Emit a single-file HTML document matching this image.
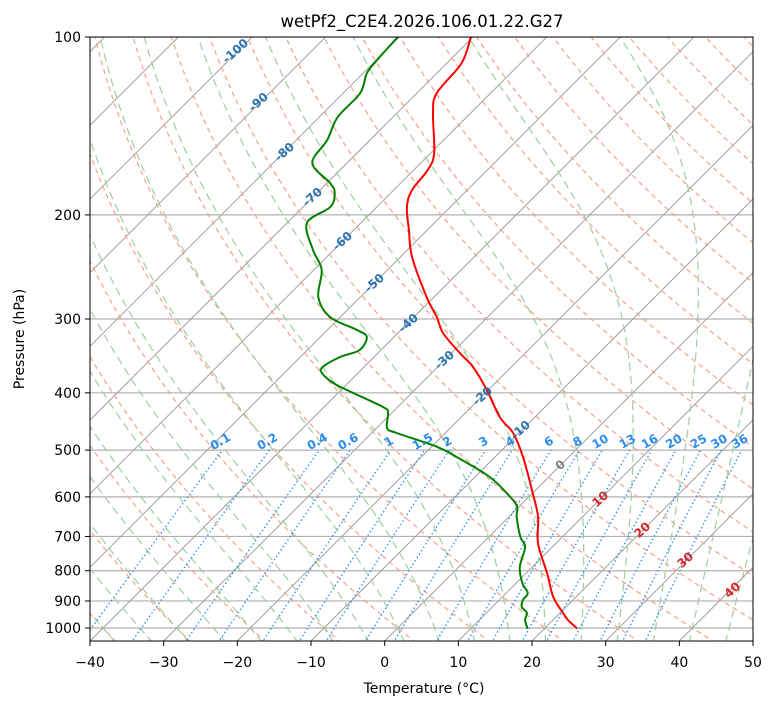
<!DOCTYPE html>
<html><head><meta charset="utf-8"><style>
body{margin:0;background:#fff;}
svg text{font-family:"DejaVu Sans","Liberation Sans",sans-serif;}
</style></head><body>
<svg id="chart" width="775" height="708" viewBox="0 0 775 708" xmlns="http://www.w3.org/2000/svg">
<defs><clipPath id="plotclip"><rect x="90" y="37" width="663" height="604"/></clipPath></defs>
<rect x="0" y="0" width="775" height="708" fill="#fff"/>
<g id="bg" clip-path="url(#plotclip)"></g>
<g id="series" clip-path="url(#plotclip)"></g>
<g id="labels"></g>
<rect x="90" y="37" width="663" height="604" fill="none" stroke="#000" stroke-width="1"/>
<g id="axes"></g>
<text x="422" y="27" text-anchor="middle" font-size="16.5">wetPf2_C2E4.2026.106.01.22.G27</text>
<text x="424" y="693" text-anchor="middle" font-size="14">Temperature (°C)</text>
<text transform="translate(24,339) rotate(-90)" text-anchor="middle" font-size="14">Pressure (hPa)</text>
</svg>
<script>
// ---- data ----
const tempP = [100,110.7,124.4,134.5,157.2,167.9,181.5,193.9,212.1,235.7,275.4,297.7,316.8,342.5,361.7,395.7,439.5,467.8,513.6,591,649,718,807,886,943,969,1000];
const tempT = [-70.3,-68.0,-67.3,-65.1,-59.5,-58.1,-57.5,-55.9,-52.5,-48.4,-41.0,-36.9,-33.9,-28.9,-25.2,-20.2,-14.8,-10.8,-6.2,0.0,4.0,7.5,12.8,16.9,20.4,22.0,24.3];
const dewP = [100,109.4,115.1,124.4,136.6,149.4,163.4,176.6,183.6,193.9,206.4,229.3,247.9,275.4,297.7,313.1,321.8,338.6,347.9,361.7,370.3,385.0,395.7,422.7,432.7,458.7,467.8,493.9,513.6,555.3,600.2,624.2,649,701.5,729.4,788.5,839.1,872.6,896.8,921.5,943,969,1000];
const dewT = [-80.2,-79.9,-79.5,-77.7,-77.5,-75.8,-74.7,-69.6,-67.6,-66.3,-67.3,-62.8,-58.9,-55.7,-51.4,-46.0,-43.7,-42.9,-44.6,-45.6,-44.9,-42.0,-39.2,-32.0,-30.5,-28.6,-26.6,-19.2,-15.2,-8.0,-2.5,-0.2,1.1,4.3,6.3,8.3,10.8,12.9,13.2,14.0,15.5,16.2,17.6];
const xTicks = [-40,-30,-20,-10,0,10,20,30,40,50];
const pTicks = [100,200,300,400,500,600,700,800,900,1000];
const mixRatios = [0.1,0.2,0.4,0.6,1,1.5,2,3,4,6,8,10,13,16,20,25,30,36];
const isoLabels = ["-100","-90","-80","-70","-60","-50","-40","-30","-20","-10","0","10","20","30","40"];

// ---- axis functions ----
const NS="http://www.w3.org/2000/svg";
function Y(p){return 37+(Math.log10(p)-2)*591;}
function X(T,p){return 90+(T+40)*7.367+(641-Y(p));}
function mk(tag,attrs,parent){const e=document.createElementNS(NS,tag);for(const k in attrs)e.setAttribute(k,attrs[k]);parent.appendChild(e);return e;}
const bg=document.getElementById('bg'), ser=document.getElementById('series'), lab=document.getElementById('labels'), ax=document.getElementById('axes');
function pathOf(pts){return pts.map((q,i)=>(i?'L':'M')+q[0].toFixed(1)+','+q[1].toFixed(1)).join('');}
function smooth(pts){
  let d='M'+pts[0][0].toFixed(1)+','+pts[0][1].toFixed(1);
  for(let i=0;i<pts.length-1;i++){
    const p0=pts[Math.max(i-1,0)],p1=pts[i],p2=pts[i+1],p3=pts[Math.min(i+2,pts.length-1)];
    const c1=[p1[0]+(p2[0]-p0[0])/6,p1[1]+(p2[1]-p0[1])/6],c2=[p2[0]-(p3[0]-p1[0])/6,p2[1]-(p3[1]-p1[1])/6];
    d+='C'+c1[0].toFixed(1)+','+c1[1].toFixed(1)+' '+c2[0].toFixed(1)+','+c2[1].toFixed(1)+' '+p2[0].toFixed(1)+','+p2[1].toFixed(1);
  }
  return d;
}
const pLevels=[];for(let lp=Math.log(1060);lp>=Math.log(95);lp-=0.02)pLevels.push(Math.exp(lp));

// isobars
pTicks.forEach(p=>{
  const l=mk('line',{x1:90,x2:753,y1:Y(p),y2:Y(p),stroke:'#b0b0b0','stroke-width':1.2},bg);
  
  
});
// isotherms
for(let T=-140;T<=50;T+=10){
  const l=mk('line',{x1:X(T,1053),y1:Y(1053),x2:X(T,95),y2:Y(95),stroke:'#a0a0a0','stroke-width':1},bg);
  
  
}
// dry adiabats
for(let th=-40;th<=220;th+=10){
  const pts=pLevels.map(p=>[X((th+273.15)*Math.pow(p/1000,0.2857)-273.15,p),Y(p)]);
  const e=mk('path',{d:pathOf(pts),fill:'none',stroke:'#f6a088','stroke-width':1.2,'stroke-dasharray':'5,4'},bg);
  
  
}
// moist adiabats
function es(Tc){return 6.112*Math.exp(17.67*Tc/(Tc+243.5));}
function dTdp(T,p){const Tc=T-273.15,e=es(Tc),rs=0.622*e/(p-e),Lv=2.501e6,Rd=287.04,cp=1005.7;
  return (Rd*T+Lv*rs)/(p*(cp+Lv*Lv*rs*0.622/(Rd*T*T)));}
function moist(t0){
  const up=[],dn=[];let T=t0+273.15,p=1000;
  while(p>95){up.push([X(T-273.15,p),Y(p)]);const dp=-5;T+=dTdp(T,p)*dp;p+=dp;}
  T=t0+273.15;p=1000;
  while(p<1060){const dp=5;T+=dTdp(T,p)*dp;p+=dp;dn.push([X(T-273.15,p),Y(p)]);}
  return dn.reverse().concat(up);
}
for(let t0=-50;t0<=45;t0+=5){
  const e=mk('path',{d:pathOf(moist(t0)),fill:'none',stroke:'#9ccf9c','stroke-width':1.2,'stroke-dasharray':'8,5'},bg);
  
  
}
// mixing ratio lines
function tdOf(w,p){const e=w*p/(0.622+w);const a=Math.log(e/6.112);return 243.5*a/(17.67-a);}
mixRatios.forEach(w=>{
  const pts=[];for(let p=1060;p>=500;p-=10)pts.push([X(tdOf(w/1000,p),p),Y(p)]);
  const e=mk('path',{d:pathOf(pts),fill:'none',stroke:'#2b8cf0','stroke-width':1.4,'stroke-dasharray':'1.4,2.6'},bg);
  
  
  const x=X(tdOf(w/1000,500),500);
  const t=mk('text',{x:0,y:0,transform:'translate('+x.toFixed(1)+',445) rotate(-30)','text-anchor':'middle','font-size':12,'font-weight':'bold',fill:'#2b8cf0'},lab);
  t.textContent=String(w);
  
  
});
// isotherm labels (positions along label path)
const isoPos=[[238,50],[261,101],[287,151],[315,196],[345,240],[377,282],[411,322],[447,359],[485,395],[523,429],[563,464],[603,498],[645,529],[688,559],[735,589]];
isoLabels.forEach((s,i)=>{
  const v=parseFloat(s);const col=v<0?'#2a73b0':(v==0?'#808080':'#d62728');
  const t=mk('text',{x:0,y:0,transform:'translate('+isoPos[i][0]+','+(isoPos[i][1]+4)+') rotate(-42)','text-anchor':'middle','font-size':12,'font-weight':'bold',fill:col},lab);
  t.textContent=s;
  
  
});
// soundings
function profile(P,T,color,name){
  const e=mk('path',{d:smooth(P.map((p,i)=>[X(T[i],p),Y(p)])),fill:'none',stroke:color,'stroke-width':2,'stroke-linejoin':'round','stroke-linecap':'round'},ser);
  
  
}
profile(tempP,tempT,'#ff0000','temperature-profile');
profile(dewP,dewT,'#008000','dewpoint-profile');
// axes ticks
xTicks.forEach(T=>{
  const x=90+(T+40)*7.367;
  mk('line',{x1:x,x2:x,y1:641,y2:646,stroke:'#000'},ax);
  const t=mk('text',{x:x,y:667,'text-anchor':'middle','font-size':14},ax);
  t.textContent=(T<0?'\u2212'+(-T):String(T));
  
  
});
pTicks.forEach(p=>{
  const y=Y(p);
  mk('line',{x1:85,x2:90,y1:y,y2:y,stroke:'#000'},ax);
  const t=mk('text',{x:81,y:y+5,'text-anchor':'end','font-size':14},ax);
  t.textContent=String(p);
  
  
});
</script>
</body></html>
